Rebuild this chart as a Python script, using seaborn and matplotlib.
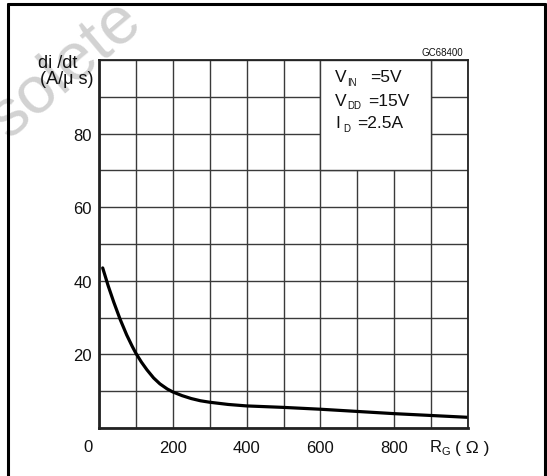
import numpy as np
import pandas as pd
import matplotlib
matplotlib.use("Agg")
import matplotlib.pyplot as plt
from matplotlib.patches import Rectangle
from matplotlib.lines import Line2D
import seaborn as sns

# ---- data ----
rg_ohm = [10, 25, 40, 57, 75, 90, 100, 115, 130, 148, 165, 185, 200, 225, 250, 275, 300,
          350, 400, 500, 600, 700, 800, 900, 1000]
didt = [43.5, 38.6, 34.2, 29.6, 25.3, 22.2, 20.3, 17.9, 15.8, 13.6, 12.0, 10.6, 9.8, 8.8,
        8.0, 7.4, 7.0, 6.4, 6.0, 5.6, 5.1, 4.5, 3.9, 3.4, 2.9]
x_tick_labels = ["200", "400", "600", "800"]
y_tick_labels = ["20", "40", "60", "80"]
cond_symbols = ["V", "V", "I"]
cond_subs = ["IN", "DD", "D"]
cond_values = ["=5V", "=15V", "=2.5A"]

df = pd.DataFrame({"RG": rg_ohm, "didt": didt})

sns.set_style("white")
plt.rcParams["font.family"] = ["Liberation Sans", "DejaVu Sans"]

W, H = 547, 477
fig = plt.figure(figsize=(W / 100, H / 100), dpi=100)

def fx(px):
    return px / W

def fy(py):
    return 1 - py / H

# plot area in pixels
L, R, T, B = 99, 468, 61, 429
ax = fig.add_axes([fx(L), fy(B), fx(R) - fx(L), fy(T) - fy(B)])
ax.set_facecolor("none")

grid_c = "#3a3a3a"
ax.set_xlim(0, 1000)
ax.set_ylim(0, 100)
ax.set_xticks(np.arange(0, 1001, 100))
ax.set_yticks(np.arange(0, 101, 10))
ax.grid(True, color=grid_c, linewidth=1.0, zorder=1)
ax.set_axisbelow(True)
ax.tick_params(length=0, labelsize=12, colors="#111111")
xl = dict(zip([200, 400, 600, 800], x_tick_labels))
yl = dict(zip([20, 40, 60, 80], y_tick_labels))
ax.set_xticklabels([xl.get(v, "") for v in range(0, 1001, 100)])
ax.set_yticklabels([yl.get(v, "") for v in range(0, 101, 10)])
ax.tick_params(axis="x", pad=9)
ax.tick_params(axis="y", pad=5)

# white box behind the condition text
ax.add_patch(Rectangle((600, 70), 300, 30, facecolor="white", edgecolor=grid_c,
                       linewidth=1.0, zorder=1.5))

sns.lineplot(data=df, x="RG", y="didt", ax=ax, color="black", linewidth=2.3, zorder=3)
ax.set_xlabel("")
ax.set_ylabel("")

for side in ["top", "right"]:
    ax.spines[side].set_linewidth(1.3)
    ax.spines[side].set_color("#222222")
for side in ["left", "bottom"]:
    ax.spines[side].set_linewidth(2.0)
    ax.spines[side].set_color("#222222")
for s in ax.spines.values():
    s.set_zorder(4)

# page frame (open at the bottom)
fig.add_artist(Line2D([fx(8), fx(8)], [0, fy(5)], color="black", lw=2.2, transform=fig.transFigure))
fig.add_artist(Line2D([fx(545), fx(545)], [0, fy(5)], color="black", lw=2.2, transform=fig.transFigure))
fig.add_artist(Line2D([fx(8), fx(545)], [fy(5), fy(5)], color="black", lw=2.2, transform=fig.transFigure))

# watermark
fig.text(fx(8), fy(140), "solete", fontsize=48, color="#d2d2d2",
         rotation=40, rotation_mode="anchor", ha="left", va="baseline", zorder=0)

txt_c = "#111111"
# axis titles
fig.text(fx(58), fy(68), "di /dt", fontsize=13, ha="center", va="baseline", color=txt_c)
fig.text(fx(94), fy(80), "(A/\u03bc s)", fontsize=13, ha="right", va="center", color=txt_c)
fig.text(fx(88), fy(448), "0", fontsize=12, ha="center", va="center", color=txt_c)
fig.text(fx(430), fy(448), "R", fontsize=12, ha="left", va="center", color=txt_c)
fig.text(fx(442), fy(452), "G", fontsize=8, ha="left", va="center", color=txt_c)
fig.text(fx(455), fy(448), "( \u03a9 )", fontsize=12.5, ha="left", va="center", color=txt_c)

# code
fig.text(fx(463), fy(53), "GC68400", fontsize=7, ha="right", va="center", color=txt_c)

# conditions
base_y = [78, 101, 124]
sub_x = [347, 347, 343]
val_x = [370, 368, 357]
for sym, sub, val, yy, sx, vx in zip(cond_symbols, cond_subs, cond_values, base_y, sub_x, val_x):
    fig.text(fx(335), fy(yy), sym, fontsize=12.5, ha="left", va="center", color=txt_c)
    fig.text(fx(sx), fy(yy + 5), sub, fontsize=7, ha="left", va="center", color=txt_c)
    fig.text(fx(vx), fy(yy), val, fontsize=12.5, ha="left", va="center", color=txt_c)

fig.savefig("out.png", dpi=100)
